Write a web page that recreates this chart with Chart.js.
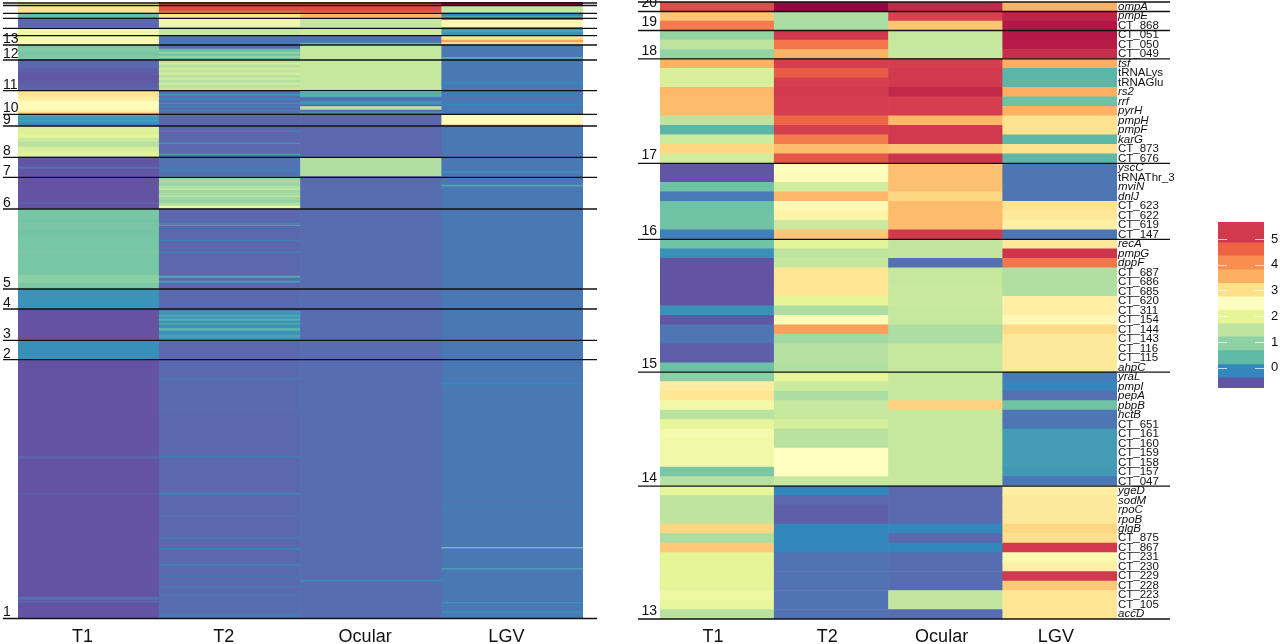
<!DOCTYPE html>
<html>
<head>
<meta charset="utf-8">
<title>Expression heatmap</title>
<script src="https://cdn.jsdelivr.net/npm/chart.js@4"></script>
<style>
    body { margin: 0; background: #fff; overflow: hidden; }
    canvas { position: absolute; }
</style>
</head>
<body>
<canvas id="heatmapAll" width="600" height="644" style="left:0;top:0"></canvas>
<canvas id="heatmapGenes" width="570" height="644" style="left:620px;top:0"></canvas>
<canvas id="colorKey" width="62" height="190" style="left:1218px;top:210px"></canvas>
<script>
const strains = ['T1', 'T2', 'Ocular', 'LGV'];

// All genes: each column is a list of runs, [last row of the run, value]
const allT1 = [[4,2.3],[11,2.95],[16,.45],[26,-.42],[33.5,2.2],[43,2.3],[46,.7],[50,.78],[54,.68],[58,.75],
    [66,-.42],[70,-.5],[74,-.55],[78,-.58],[82,-.55],[86,-.5],[89,-.45],[95,2.95],[99,2.8],[108,2.55],[110,2.7],[112,3.1],
    [115,.2],[118,0],[120,.1],[122,-.05],[124,-.1],[132,1.85],[136,1.95],[140,1.6],[145,1.4],[150,1.8],[155,1.9],
    [165,-.58],[167,-.35],[175,-.58],[200,-.66],[202,-.48],[207,-.66],[218,.66],[220,.6],[228,.68],[234,.62],[248,.66],
    [253,.72],[273,.66],[281,.9],[287,.72],[307,-.02],[338,-.7],[358,-.06],[454,-.65],[457,-.45],[491,-.65],[493,-.52],
    [595,-.65],[598,-.35],[599,-.6],[601,-.45],[617,-.62]];
const allT2 = [[9,5],[11,4.5],[16,2.95],[25,2.15],[33.5,1.55],[43,-.3],[47,-.35],[50,.5],[52,1],[54,.55],[56,1.05],[58,.5],
    [61,1.4],[63,1.75],[66,1.35],[68,1.7],[71,1.45],[73,1.8],[76,1.4],[78,1.65],[81,1.3],[83,1.75],[86,1.4],[89,1.6],
    [92,-.4],[94,0],[96,-.4],[98,-.1],[101,-.4],[102,.05],[104,-.38],[106,-.2],[108,-.42],[110,-.3],[124,-.42],
    [129,-.42],[130,-.12],[141,-.42],[142,.1],[152,-.42],[153,.2],[155,-.42],[164,-.33],[165,-.25],[168,-.33],[170,-.22],[175,-.35],
    [178,1],[181,1.2],[184,1.05],[187,1.3],[188,1.6],[191,1.1],[194,1.2],[195,1.6],[198,1.1],[201,1],[204,1.3],[207,2.05],
    [221,-.42],[222,-.05],[223,-.42],[224,.2],[238,-.42],[239,-.15],[250,-.42],[251,-.1],[274,-.42],[276,.2],[279,-.38],[281,.08],[287,-.42],
    [307,-.4],[309,-.38],[311,.05],[313,-.03],[315,.2],[317,0],[319,.3],[321,-.05],[323,.18],[326,-.05],[329,.32],[331,0],[333,-.02],[336,.15],[338,0],
    [358,-.42],[376,-.4],[378,-.25],[410,-.4],[411,-.34],[454,-.42],[456,-.22],[491,-.42],[493,-.2],[514,-.42],[515,-.28],[535,-.42],[537,-.3],
    [546,-.42],[548,-.15],[562,-.42],[564,-.22],[574,-.4],[575,-.26],[584,-.4],[586,-.28],[592,-.4],[594,-.3],[612,-.38],[614,-.24],[617,-.3]];
const allOcular = [[9,5],[11,4.7],[16,3.45],[25,1.55],[33.5,1.65],[41,-.33],[43,.35],[88,1.55],[90,1.3],[95,.3],[96,0],[99,-.42],
    [103,0],[104.5,-.45],[108,1.4],[110,-.4],[111,.1],[155.7,-.42],[174.7,1.3],[347,-.38],[348,-.3],[578,-.38],[580,-.08],[617,-.38]];
const allLGV = [[4,5.9],[11,1.5],[14,-.2],[16,.2],[18,5.5],[25.5,2.6],[28.5,-.05],[30,.15],[33.5,-.02],[38,2.9],[40.5,3.75],[43,3],
    [55.5,-.27],[57,.3],[80,-.27],[82,-.12],[102,-.27],[104,-.12],[113,-.27],[123,2.55],[124,4.4],[157,-.27],[158,-.2],[169,-.27],[170.5,-.1],
    [183,-.27],[184.5,.2],[381,-.27],[383,-.12],[505,-.27],[506,-.18],[545.5,-.27],[546.5,.7],[566.5,-.27],[568,.05],[600.5,-.27],[602,-.08],
    [609,-.27],[610.5,-.08],[617,-.25]];
const allRows = 617;
const allClusterNames = ['13', '12', '11', '10', '9', '8', '7', '6', '5', '4', '3', '2', '1'];
const allClusterEnds = [43, 58, 88.7, 112.3, 124, 155.3, 175.3, 207, 287, 307, 338.3, 357.7, 616.5];
const allExtraBreaks = [1, 3.5, 11.3, 16.3, 26.3, 33.7];

// Selected genes, one value per row
const genes = ['ompA', 'pmpE', 'CT_868', 'CT_051', 'CT_050', 'CT_049', 'tsf', 'tRNALys', 'tRNAGlu', 'rs2', 'rrf', 'pyrH', 'pmpH', 'pmpF',
    'karG', 'CT_873', 'CT_676', 'yscC', 'tRNAThr_3', 'mviN', 'dnlJ', 'CT_623', 'CT_622', 'CT_619', 'CT_147', 'recA', 'pmpG', 'dppF',
    'CT_687', 'CT_686', 'CT_685', 'CT_620', 'CT_311', 'CT_154', 'CT_144', 'CT_143', 'CT_116', 'CT_115', 'ahpC', 'yraL', 'pmpI', 'pepA',
    'pbpB', 'hctB', 'CT_651', 'CT_161', 'CT_160', 'CT_159', 'CT_158', 'CT_157', 'CT_047', 'ygeD', 'sodM', 'rpoC', 'rpoB', 'glgB',
    'CT_875', 'CT_867', 'CT_231', 'CT_230', 'CT_229', 'CT_228', 'CT_223', 'CT_105', 'accD'];
const genesT1 = [4.95, 3.3, 4.3, 1, 1.45, 1, 3.5, 1.8, 1.8, 3.45, 3.4, 3.4, 1.45, .35, 1.65, 3.1, 1.7,
    -.58, -.58, .55, -.25, .6, .6, .6, -.2, .6, -.05, -.6, -.6, -.6, -.6, -.6, -.03, -.58, -.3, -.3, -.5, -.5, .55,
    .9, 2.8, 2.9, 2.2, 1.4, 2, 2.25, 2.2, 2.2, 2.2, .7, 1.38, 2, 1.45, 1.45, 1.45, 3.1, 1.25, 3.25, 1.97, 1.97, 1.97, 1.97, 2.15, 2, 1.4];
const genesT2 = [5.9, 1.25, 1.25, 5.25, 4.35, 3.5, 5.2, 4.7, 5.2, 5.25, 5.2, 5.2, 4.55, 5.2, 4.3, 3.4, 4.8,
    2.5, 2.55, 1.7, 3.45, 2.6, 2.7, 1.6, 3.3, 1.95, 1.45, 1.55, 2.9, 2.9, 2.9, 1.97, 1.25, 2.55, 3.8, 1.15, 1.35, 1.35, 1.3,
    2, 1.65, 1.25, 1.55, 1.55, 1.75, 1.4, 1.4, 2.5, 2.5, 2.5, 1.55, -.13, -.42, -.5, -.5, -.13, -.13, -.15, -.33, -.33, -.33, -.33, -.33, -.33, -.33];
const genesOcular = [5.45, 5.15, 3.3, 1.55, 1.55, 1.55, 5.2, 5.25, 5.25, 5.45, 5.2, 5.2, 3.45, 5.25, 5.25, 3.3, 5.3,
    3.35, 3.35, 3.35, 3.1, 3.4, 3.4, 3.4, 5.25, 1.5, 1.5, -.35, 1.55, 1.55, 1.6, 1.6, 1.55, 1.55, 1.25, 1.25, 1.55, 1.55, 1.55,
    1.55, 1.55, 1.55, 3.15, 1.55, 1.55, 1.55, 1.55, 1.55, 1.55, 1.55, 1.55, -.4, -.4, -.4, -.4, -.13, -.42, -.13, -.37, -.37, -.37, -.37, 1.5, 1.5, -.37];
const genesLGV = [3.5, 5.5, 5.65, 5.65, 5.6, 5.4, 3.55, .35, .35, 3.55, .55, 3.5, 2.95, 2.95, .37, 2.95, .37,
    -.3, -.3, -.3, -.3, 2.95, 2.85, 2.75, -.3, 2.85, 5.3, 4.35, 1.3, 1.3, 1.3, 2.75, 2.75, 2.6, 3.05, 2.85, 2.85, 2.85, 2.85,
    -.25, -.15, -.35, .6, -.3, -.3, .08, .08, .08, .08, .05, -.28, 2.75, 2.85, 2.85, 2.85, 3.1, 3, 5.25, 2.3, 2.75, 5.25, 3.25, 2.9, 2.9, 2.9];
const geneClusterNames = ['20', '19', '18', '17', '16', '15', '14', '13'];
const geneClusterEnds = [1, 3, 6, 17, 25, 39, 51, 65];

// Colour key
const keyBreaks = [5.66, 4.85, 4.35, 3.8, 3.28, 2.75, 2.24, 1.7, 1.2, .66, .12, -.39, -.79];
const keyTicks = [0, 1, 2, 3, 4, 5];

// Spectral ramp, value -> colour
const rampValues = [-.8, -.6, -.4, -.27, -.13, .39, .93, 1.45, 1.97, 2.5, 3, 3.55, 4.07, 4.6, 5.2, 5.9];
const rampColors = [[106, 80, 160], [98, 84, 163], [90, 106, 176], [74, 120, 181], [50, 136, 189], [95, 186, 166], [142, 209, 164], [190, 228, 160],
    [230, 245, 152], [255, 255, 191], [254, 224, 139], [253, 174, 97], [249, 142, 82], [238, 98, 69], [213, 62, 79], [158, 1, 66]];

function colorFor(v) {
    let i = 0;
    while (i < rampValues.length - 2 && v > rampValues[i + 1]) i++;
    const t = Math.min(1, Math.max(0, (v - rampValues[i]) / (rampValues[i + 1] - rampValues[i])));
    const c = rampColors[i].map((a, k) => Math.round(a + (rampColors[i + 1][k] - a) * t));
    return `rgb(${c[0]},${c[1]},${c[2]})`;
}

const fontFamily = '"Liberation Sans", Arial, sans-serif';

function runsToBars(strain, runs) {
    let start = 0;
    return runs.map(([end, v]) => {
        const bar = { x: strain, y: [start, end], v };
        start = end;
        return bar;
    });
}

function valuesToBars(strain, values) {
    return values.map((v, i) => ({ x: strain, y: [i, i + 1], v }));
}

// Fixed axis width, and no extra room for labels hanging over the plot ends
function fitVerticalAxis(scale, width) {
    scale.width = width;
    scale.paddingTop = 0;
    scale.paddingBottom = 0;
}

// Black separators between clusters, they run past the plot on both sides
const clusterLines = {
    id: 'clusterLines',
    afterDraw(chart, args, opts) {
        const { ctx, scales } = chart;
        ctx.save();
        ctx.strokeStyle = '#111';
        ctx.lineWidth = 1.3;
        opts.rows.forEach(r => {
            const y = scales.y.getPixelForValue(r);
            ctx.beginPath();
            ctx.moveTo(opts.from, y);
            ctx.lineTo(opts.to, y);
            ctx.stroke();
        });
        ctx.restore();
    }
};

// Small white marks at each end of the key, level with the ticks
const keyMarks = {
    id: 'keyMarks',
    afterDatasetsDraw(chart) {
        const { ctx, chartArea, scales } = chart;
        ctx.save();
        ctx.strokeStyle = 'rgba(255,255,255,0.7)';
        ctx.lineWidth = 1;
        keyTicks.forEach(t => {
            const y = Math.round(scales.y.getPixelForValue(t)) + 0.5;
            ctx.beginPath();
            ctx.moveTo(chartArea.left, y);
            ctx.lineTo(chartArea.left + 9, y);
            ctx.moveTo(chartArea.right - 9, y);
            ctx.lineTo(chartArea.right, y);
            ctx.stroke();
        });
        ctx.restore();
    }
};

function heatmapDataset(bars) {
    return {
        data: bars,
        backgroundColor: c => colorFor(c.raw.v),
        borderWidth: 0,
        categoryPercentage: 1,
        barPercentage: 1
    };
}

function xAxis(labelOffset) {
    return {
        grid: { display: false, drawTicks: false },
        border: { display: false },
        ticks: { color: '#111', font: { family: fontFamily, size: 18 }, padding: 7, maxRotation: 0, labelOffset },
        afterFit: s => { s.height = 25; s.paddingLeft = 0; s.paddingRight = 0; }
    };
}

function clusterAxis(names, ends, max, width, crossAlign, padding, labelOffset) {
    return {
        min: 0,
        max,
        reverse: true,
        grid: { display: false, drawTicks: false },
        border: { display: false },
        afterBuildTicks: s => { s.ticks = ends.map(value => ({ value })); },
        afterFit: s => fitVerticalAxis(s, width),
        ticks: {
            autoSkip: false,
            color: '#111',
            font: { family: fontFamily, size: 14 },
            padding,
            crossAlign,
            labelOffset,
            callback: v => names[ends.indexOf(v)]
        }
    };
}

// Overview of all genes
new Chart(document.getElementById('heatmapAll').getContext('2d'), {
    type: 'bar',
    data: {
        labels: strains,
        datasets: [heatmapDataset([
            ...runsToBars('T1', allT1),
            ...runsToBars('T2', allT2),
            ...runsToBars('Ocular', allOcular),
            ...runsToBars('LGV', allLGV)
        ])]
    },
    options: {
        responsive: false,
        animation: false,
        events: [],
        layout: { padding: { left: 3, right: 17, top: 2, bottom: 0 } },
        scales: {
            x: xAxis(-6),
            y: clusterAxis(allClusterNames, allClusterEnds, allRows, 15, 'far', 0, -6)
        },
        plugins: {
            legend: { display: false },
            tooltip: { enabled: false },
            clusterLines: { rows: [...allExtraBreaks, ...allClusterEnds], from: 3, to: 597 }
        }
    },
    plugins: [clusterLines]
});

// Selected genes, labelled on the right
new Chart(document.getElementById('heatmapGenes').getContext('2d'), {
    type: 'bar',
    data: {
        labels: strains,
        datasets: [heatmapDataset([
            ...valuesToBars('T1', genesT1),
            ...valuesToBars('T2', genesT2),
            ...valuesToBars('Ocular', genesOcular),
            ...valuesToBars('LGV', genesLGV)
        ])]
    },
    options: {
        responsive: false,
        animation: false,
        events: [],
        layout: { padding: { left: 0, right: 13, top: 2, bottom: 0 } },
        scales: {
            x: xAxis(-4),
            y: clusterAxis(geneClusterNames, geneClusterEnds, genes.length, 40, 'near', 3, -8),
            yGenes: {
                axis: 'y',
                position: 'right',
                min: 0,
                max: genes.length,
                reverse: true,
                grid: { display: false, drawTicks: false },
                border: { display: false },
                afterBuildTicks: s => { s.ticks = genes.map((g, i) => ({ value: i + 0.5 })); },
                afterFit: s => fitVerticalAxis(s, 60),
                ticks: {
                    autoSkip: false,
                    color: '#111',
                    padding: 1,
                    // gene names in italics, locus tags and tRNAs upright
                    font: c => {
                        const name = genes[c.index] || '';
                        const upright = name.startsWith('CT_') || name.startsWith('tRNA');
                        return { family: fontFamily, size: 11.5, style: upright ? 'normal' : 'italic' };
                    },
                    callback: v => genes[Math.floor(v)]
                }
            }
        },
        plugins: {
            legend: { display: false },
            tooltip: { enabled: false },
            clusterLines: { rows: [0, ...geneClusterEnds], from: 18, to: 550 }
        }
    },
    plugins: [clusterLines]
});

// Colour key
new Chart(document.getElementById('colorKey').getContext('2d'), {
    type: 'bar',
    data: {
        labels: [''],
        datasets: [{
            data: keyBreaks.slice(1).map((lo, i) => ({ x: '', y: [lo, keyBreaks[i]], v: (lo + keyBreaks[i]) / 2 })),
            backgroundColor: c => colorFor(c.raw.v),
            borderWidth: 0,
            categoryPercentage: 1,
            barPercentage: 1
        }]
    },
    options: {
        responsive: false,
        animation: false,
        events: [],
        layout: { padding: { left: 0, right: 0, top: 12, bottom: 12 } },
        scales: {
            x: { display: false },
            y: {
                position: 'right',
                min: keyBreaks[keyBreaks.length - 1],
                max: keyBreaks[0],
                grid: { display: false, drawTicks: false },
                border: { display: false },
                afterBuildTicks: s => { s.ticks = keyTicks.map(value => ({ value })); },
                afterFit: s => fitVerticalAxis(s, 16),
                ticks: {
                    color: '#111',
                    font: { family: fontFamily, size: 13 },
                    padding: 7,
                    callback: v => String(v)
                }
            }
        },
        plugins: { legend: { display: false }, tooltip: { enabled: false } }
    },
    plugins: [keyMarks]
});
</script>
</body>
</html>
